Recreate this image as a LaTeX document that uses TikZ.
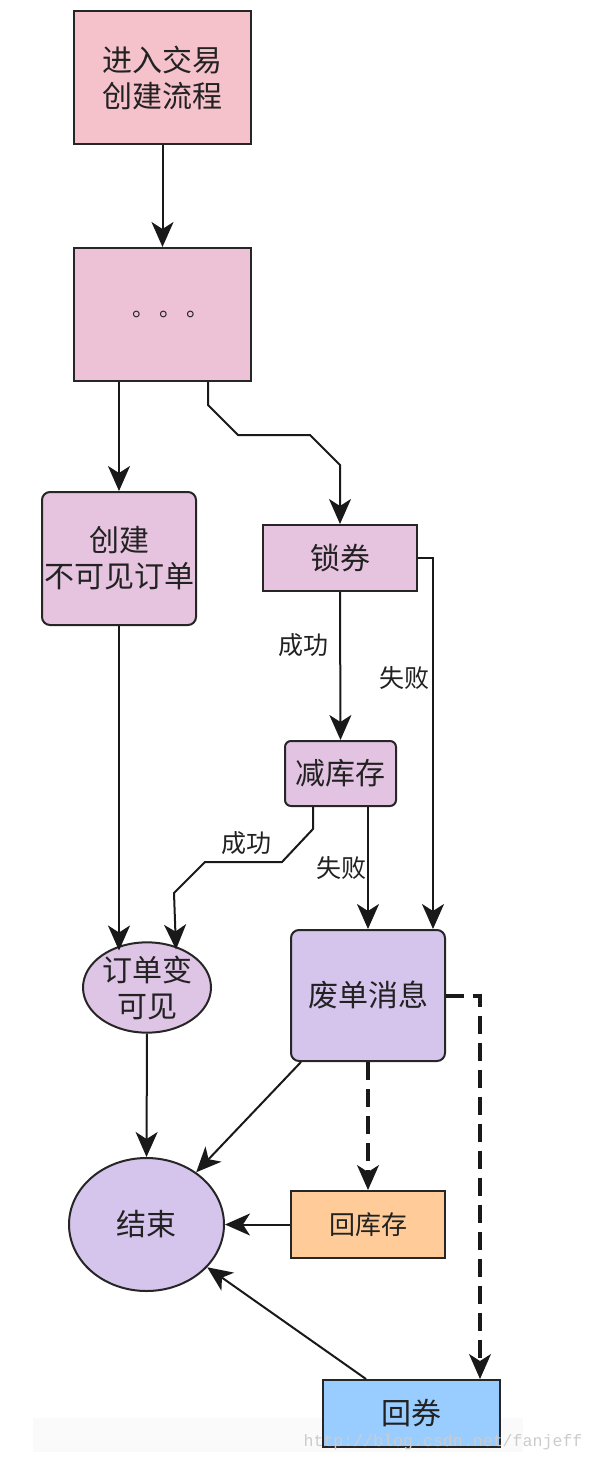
\documentclass[tikz,border=0pt]{standalone}
\usepackage{fontspec}
\setmainfont{Noto Sans CJK SC}
\newfontfamily\wmfont{Liberation Mono}
\usetikzlibrary{arrows.meta,shapes.geometric,calc}
\definecolor{cA}{HTML}{F5C2CC}
\definecolor{cB}{HTML}{EEC2D6}
\definecolor{cC}{HTML}{E6C3DF}
\definecolor{cD}{HTML}{E2C4E2}
\definecolor{cE}{HTML}{DEC4E5}
\definecolor{cF}{HTML}{D5C4EC}
\definecolor{cOrange}{HTML}{FFCC99}
\definecolor{cBlue}{HTML}{99CCFF}
\definecolor{txt}{HTML}{222222}
\begin{document}
\begin{tikzpicture}[x=1pt,y=-1pt,
  box/.style={draw=black!85,line width=2pt,inner sep=0pt,align=center,text=txt,
    font=\fontsize{30}{36}\selectfont},
  rbox/.style={box,rounded corners=8pt},
  ell/.style={box,ellipse},
  lab/.style={text=txt,font=\fontsize{25}{30}\selectfont,inner sep=0pt},
  conn/.style={line width=2pt,draw=black!90,-{Stealth[length=25pt,width=22pt,inset=7pt]}},
  dconn/.style={conn,line width=4pt,dash pattern=on 18pt off 9pt,-{Stealth[length=25pt,width=22pt,inset=7pt,line width=1pt]}}
]
\useasboundingbox (0,0) rectangle (594,1464);
\fill[black!2] (33,1418) rectangle (523,1452);

\node[box,fill=cA,minimum width=177pt,minimum height=133pt] (enter) at (162.5,77.5) {进入交易\\创建流程};
\node[box,fill=cB,minimum width=177pt,minimum height=133pt] (dots) at (162.5,314.5) {\fontsize{22}{24}\selectfont \hspace*{16pt}。\hspace{5pt}。\hspace{5pt}。};
\node[rbox,fill=cC,minimum width=154pt,minimum height=133pt] (create) at (119,558.5) {创建\\不可见订单};
\node[box,fill=cC,minimum width=154pt,minimum height=66pt] (lock) at (340,558) {锁券};
\node[rbox,rounded corners=6pt,fill=cD,minimum width=111pt,minimum height=65pt] (reduce) at (340.5,773.5) {减库存};
\node[rbox,fill=cF,minimum width=154pt,minimum height=131pt] (waste) at (368,995.5) {废单消息};
\node[ell,fill=cE,minimum width=128pt,minimum height=83pt] (visible) at (147,987.5) {订单变\\可见};
\node[ell,fill=cF,minimum width=155pt,minimum height=133pt] (end) at (146.5,1224.5) {结束};
\node[box,fill=cOrange,minimum width=154pt,minimum height=67pt,font=\fontsize{26}{30}\selectfont] (restock) at (368,1224.5) {回库存};
\node[box,fill=cBlue,minimum width=177pt,minimum height=67pt] (recoupon) at (411.5,1413.5) {回券};

\node[lab] (l1) at (303,645) {成功};
\node[lab] (l2) at (404,678) {失败};
\node[lab] (l3) at (246,843) {成功};
\node[lab] (l4) at (341,868) {失败};

\node[text=black!20,font=\wmfont\fontsize{16.6}{18}\selectfont,inner sep=0pt] (wm) at (443,1442) {http://blog.csdn.net/fanjeff};

\draw[conn] (enter.south) -- (dots.north);
\draw[conn] ([xshift=-43.5pt]dots.south) -- (create.north);
\draw[conn] ([xshift=45.5pt]dots.south) -- ++(0,23) -- ++(30,30) -- ++(72,0) -- ++(30,30) -- (lock.north);
\draw[conn] (lock.south) -- (reduce.north);
\draw[conn] (lock.east) -| ([xshift=65pt]waste.north);
\draw[conn] ([xshift=27.5pt]reduce.south) -- ([xshift=0pt]waste.north);
\draw[conn] ([xshift=-27.5pt]reduce.south) -- ++(0,22) -- ++(-31,33) -- ++(-77,0) -- ++(-31,31) -- ($(visible.center)+(29,-38)$);
\draw[conn] (create.south) -- ($(visible.center)+(-28,-37)$);
\draw[conn] (visible.south) -- (end.north);
\draw[conn] ([xshift=11pt]waste.south west) -- (end);
\draw[dconn] (waste.south) -- (restock.north);
\draw[dconn] (waste.east) -| ([xshift=68.5pt]recoupon.north);
\draw[conn] (restock.west) -- (end.east);
\draw[conn] ([xshift=-45.5pt]recoupon.north) -- (end);
\end{tikzpicture}
\end{document}
